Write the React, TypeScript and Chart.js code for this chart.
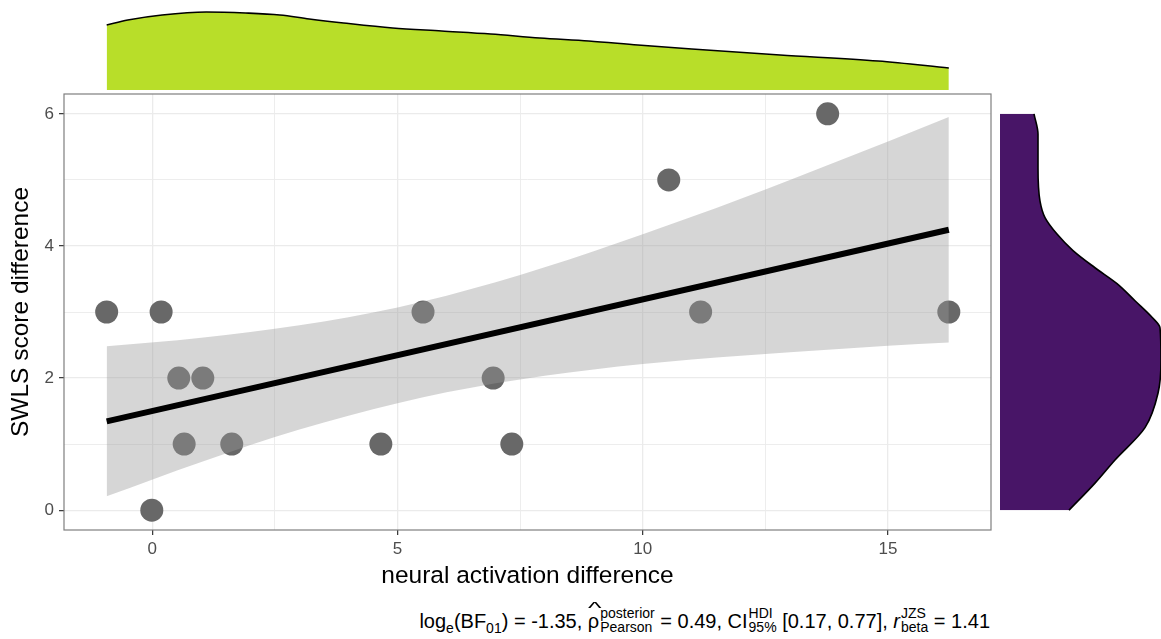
import React, { useEffect, useRef } from "react";
import { Chart, registerables } from "chart.js";

Chart.register(...registerables);

// ---- data ----
const pointX = [-0.93, 0.18, -0.01, 0.54, 1.03, 0.65, 1.62, 4.66, 5.52, 6.95, 7.33, 10.53, 11.18, 13.77, 16.24];
const pointY = [3, 3, 0, 2, 2, 1, 1, 1, 3, 2, 1, 5, 3, 6, 3];

const fitX = [-0.93, 16.24];
const fitY = [1.345, 4.245];

const bandX = [-0.93, 1, 3, 5, 7, 9, 11, 13, 15, 16.24];
const bandUpper = [2.48, 2.61, 2.8, 3.07, 3.45, 3.92, 4.44, 5.0, 5.58, 5.95];
const bandLower = [0.21, 0.73, 1.22, 1.62, 1.92, 2.13, 2.28, 2.39, 2.49, 2.54];

const topDensX = [-0.93, -0.5, 0.2, 1.1, 1.9, 2.6, 3.2, 3.9, 4.9, 5.9, 6.9, 7.9, 8.9, 9.9, 11.0, 12.8, 14.8, 16.24];
const topDensY = [0.065, 0.07, 0.075, 0.078, 0.077, 0.075, 0.071, 0.067, 0.062, 0.059, 0.056, 0.052, 0.049, 0.045, 0.041, 0.035, 0.029, 0.022];

const rightDensV = [0.0, 0.41, 0.76, 1.25, 1.77, 2.27, 2.76, 2.92, 3.17, 3.43, 3.67, 3.93, 4.18, 4.43, 4.68, 5.18, 5.69, 6.0];
const rightDensD = [0.069, 0.095, 0.115, 0.145, 0.158, 0.161, 0.16, 0.152, 0.135, 0.117, 0.095, 0.073, 0.057, 0.045, 0.04, 0.038, 0.038, 0.034];

const xMajorTicks = [0, 5, 10, 15];
const xMinorTicks = [2.5, 7.5, 12.5];
const yMajorTicks = [0, 2, 4, 6];
const yMinorTicks = [1, 3, 5];
const xRange = [-1.8, 17.1];
const yRange = [-0.3, 6.3];

const xTitle = "neural activation difference";
const yTitle = "SWLS score difference";

const FONT = "'Liberation Sans', Arial, Helvetica, sans-serif";

const panelBorder = {
  id: "panelBorder",
  afterDraw(chart: any) {
    const { ctx, chartArea } = chart;
    ctx.save();
    ctx.strokeStyle = "#7f7f7f";
    ctx.lineWidth = 1.2;
    ctx.strokeRect(chartArea.left, chartArea.top, chartArea.right - chartArea.left, chartArea.bottom - chartArea.top);
    ctx.restore();
  },
};

function MainChart() {
  const ref = useRef<HTMLCanvasElement>(null);
  useEffect(() => {
    Chart.defaults.font.family = FONT;
    const isMajorX = (v: number) => xMajorTicks.includes(v);
    const isMajorY = (v: number) => yMajorTicks.includes(v);
    const chart = new Chart(ref.current!, {
      type: "line",
      data: {
        datasets: [
          {
            label: "fit",
            data: fitX.map((x, i) => ({ x, y: fitY[i] })),
            borderColor: "#000000",
            borderWidth: 6,
            pointRadius: 0,
            fill: false,
            order: 0,
          },
          {
            label: "upper",
            data: bandX.map((x, i) => ({ x, y: bandUpper[i] })),
            borderWidth: 0,
            borderColor: "rgba(0,0,0,0)",
            backgroundColor: "rgba(153,153,153,0.4)",
            pointRadius: 0,
            fill: "+1",
            cubicInterpolationMode: "monotone",
            order: 1,
          },
          {
            label: "lower",
            data: bandX.map((x, i) => ({ x, y: bandLower[i] })),
            borderWidth: 0,
            borderColor: "rgba(0,0,0,0)",
            pointRadius: 0,
            fill: false,
            cubicInterpolationMode: "monotone",
            order: 1,
          },
          {
            label: "points",
            data: pointX.map((x, i) => ({ x, y: pointY[i] })),
            showLine: false,
            pointRadius: 11.5,
            pointBackgroundColor: "#686868",
            pointBorderWidth: 0,
            pointBorderColor: "#686868",
            order: 3,
          },
        ],
      },
      options: {
        animation: false,
        responsive: false,
        events: [],
        layout: { padding: { left: 0, top: 94, right: 170, bottom: 0 } },
        plugins: { legend: { display: false }, tooltip: { enabled: false } },
        scales: {
          x: {
            type: "linear",
            min: xRange[0],
            max: xRange[1],
            afterBuildTicks: (s: any) => {
              s.ticks = [...xMajorTicks, ...xMinorTicks].sort((a, b) => a - b).map((v) => ({ value: v }));
            },
            afterFit: (s: any) => {
              s.height = 70;
            },
            ticks: {
              autoSkip: false,
              maxRotation: 0,
              color: "#4d4d4d",
              font: { size: 17 },
              padding: 4,
              callback: (v: any) => (isMajorX(Number(v)) ? String(v) : ""),
            },
            grid: {
              color: "#ebebeb",
              lineWidth: (c: any) => (c.tick && isMajorX(c.tick.value) ? 1.3 : 0.9),
              tickLength: 5,
              tickColor: (c: any) => (c.tick && isMajorX(c.tick.value) ? "#333333" : "rgba(0,0,0,0)"),
              tickWidth: 1.2,
            },
            border: { display: false },
            title: {
              display: true,
              text: xTitle,
              color: "#000000",
              font: { size: 24.5 },
              padding: { top: 0, bottom: 9 },
            },
          },
          y: {
            type: "linear",
            min: yRange[0],
            max: yRange[1],
            afterBuildTicks: (s: any) => {
              s.ticks = [...yMajorTicks, ...yMinorTicks].sort((a, b) => a - b).map((v) => ({ value: v }));
            },
            afterFit: (s: any) => {
              s.width = 64;
            },
            ticks: {
              autoSkip: false,
              color: "#4d4d4d",
              font: { size: 17 },
              padding: 5,
              callback: (v: any) => (isMajorY(Number(v)) ? String(v) : ""),
            },
            grid: {
              color: "#ebebeb",
              lineWidth: (c: any) => (c.tick && isMajorY(c.tick.value) ? 1.3 : 0.9),
              tickLength: 5,
              tickColor: (c: any) => (c.tick && isMajorY(c.tick.value) ? "#333333" : "rgba(0,0,0,0)"),
              tickWidth: 1.2,
            },
            border: { display: false },
            title: {
              display: true,
              text: yTitle,
              color: "#000000",
              font: { size: 24.5 },
              padding: { top: 7, bottom: 0 },
            },
          },
        },
      } as any,
      plugins: [panelBorder],
    });
    return () => chart.destroy();
  }, []);
  return (
    <canvas
      ref={ref}
      width={1161}
      height={600}
      style={{ position: "absolute", left: 0, top: 0, width: 1161, height: 600 }}
    />
  );
}

function TopDensity() {
  const ref = useRef<HTMLCanvasElement>(null);
  useEffect(() => {
    const chart = new Chart(ref.current!, {
      type: "line",
      data: {
        datasets: [
          {
            data: topDensX.map((x, i) => ({ x, y: topDensY[i] })),
            fill: "origin",
            backgroundColor: "#B8DE29",
            borderColor: "#000000",
            borderWidth: 1.6,
            pointRadius: 0,
            cubicInterpolationMode: "monotone",
          },
        ],
      },
      options: {
        animation: false,
        responsive: false,
        events: [],
        layout: { padding: 0 },
        plugins: { legend: { display: false }, tooltip: { enabled: false } },
        scales: {
          x: { type: "linear", min: xRange[0], max: xRange[1], display: false },
          y: { type: "linear", min: 0, max: 0.09, display: false },
        },
      } as any,
    });
    return () => chart.destroy();
  }, []);
  return (
    <canvas
      ref={ref}
      width={927}
      height={90}
      style={{ position: "absolute", left: 64, top: 0, width: 927, height: 90 }}
    />
  );
}

function RightDensity() {
  const ref = useRef<HTMLCanvasElement>(null);
  useEffect(() => {
    const chart = new Chart(ref.current!, {
      type: "line",
      data: {
        datasets: [
          {
            data: rightDensV.map((v, i) => ({ x: rightDensD[i], y: v })),
            fill: "origin",
            backgroundColor: "#481567",
            borderColor: "#000000",
            borderWidth: 1.6,
            pointRadius: 0,
            cubicInterpolationMode: "monotone",
          },
        ],
      },
      options: {
        animation: false,
        responsive: false,
        events: [],
        indexAxis: "y",
        layout: { padding: 0 },
        plugins: { legend: { display: false }, tooltip: { enabled: false } },
        scales: {
          x: { type: "linear", min: 0, max: 0.161, display: false },
          y: { type: "linear", min: yRange[0], max: yRange[1], display: false },
        },
      } as any,
    });
    return () => chart.destroy();
  }, []);
  return (
    <canvas
      ref={ref}
      width={161}
      height={436}
      style={{ position: "absolute", left: 1000, top: 94, width: 161, height: 436 }}
    />
  );
}

function Stack({ sup, sub }: { sup: string; sub: string }) {
  return (
    <span
      style={{
        display: "inline-block",
        verticalAlign: "-4px",
        lineHeight: "14px",
        fontSize: 14,
        textAlign: "left",
        marginLeft: 1,
      }}
    >
      <span style={{ display: "block" }}>{sup}</span>
      <span style={{ display: "block" }}>{sub}</span>
    </span>
  );
}

const subStyle: React.CSSProperties = { fontSize: 14, verticalAlign: "-5px", lineHeight: 0 };

function Caption() {
  return (
    <div
      style={{
        position: "absolute",
        right: 171,
        top: 606,
        fontSize: 20,
        lineHeight: "26px",
        whiteSpace: "nowrap",
        color: "#000",
        fontFamily: FONT,
      }}
    >
      log<span style={subStyle}>e</span>(BF<span style={subStyle}>01</span>) = -1.35,{" "}
      <span style={{ position: "relative", display: "inline-block" }}>
        ρ
        <span
          style={{
            position: "absolute",
            left: 0,
            top: -12,
            fontSize: 16,
            transform: "scaleX(1.8)",
            transformOrigin: "left",
          }}
        >
          ^
        </span>
      </span>
      <Stack sup="posterior" sub="Pearson" /> = 0.49, CI
      <Stack sup="HDI" sub="95%" /> [0.17, 0.77],{" "}
      <i>r</i>
      <Stack sup="JZS" sub="beta" /> = 1.41
    </div>
  );
}

export default function App() {
  return (
    <div
      style={{
        position: "fixed",
        left: 0,
        top: 0,
        width: 1161,
        height: 639,
        background: "#ffffff",
        overflow: "hidden",
        fontFamily: FONT,
      }}
    >
      <MainChart />
      <TopDensity />
      <RightDensity />
      <Caption />
    </div>
  );
}
